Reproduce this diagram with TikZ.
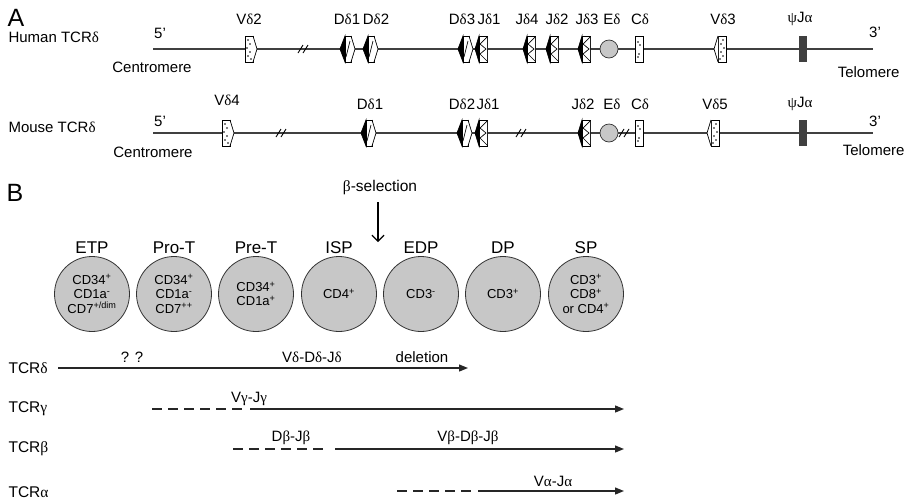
\documentclass[tikz,border=0pt]{standalone}
\usepackage{fontspec}
\setmainfont{Liberation Sans}
\newfontfamily\grk{Liberation Serif}
\usetikzlibrary{arrows, arrows.meta}
\newcommand{\gDl}{{\grk δ}}
\newcommand{\gGm}{{\grk γ}}
\newcommand{\gBt}{{\grk β}}
\newcommand{\gAl}{{\grk α}}
\newcommand{\gPs}{{\grk ψ}}
\newcommand{\fs}[1]{\fontsize{#1}{#1}\selectfont}
% gene segments, drawn at (x,y)
\newcommand{\vseg}[3][]{\begin{scope}[shift={(#2,#3)},#1]
	\draw[seg] (-4,-13) rectangle (4,13);
	\draw[seg] (4,-13) -- (8,0) -- (4,13);
	\foreach \p in {(-1,-9),(1,-5),(-2,-1),(1,3),(-1,7),(2,10)} \fill \p circle (0.8);
\end{scope}}
\newcommand{\dseg}[2]{\begin{scope}[shift={(#1,#2)}]
	\draw[seg,fill=black] (-3,-13) -- (-8,0) -- (-3,13) -- cycle;
	\draw[seg] (-3,-13) rectangle (3,13);
	\draw[seg] (3,-13) -- (7,0) -- (3,13);
	\draw[seg] (-2,8) -- (2,-8);
\end{scope}}
\newcommand{\jseg}[2]{\begin{scope}[shift={(#1,#2)}]
	\draw[seg,fill=black] (-4,-13) -- (-8,0) -- (-4,13) -- cycle;
	\draw[seg] (-4,-13) rectangle (4,13);
	\draw[seg] (4,-12) -- (-3,-5) -- (3,0) -- (-3,5) -- (4,12);
\end{scope}}
\newcommand{\cseg}[2]{\begin{scope}[shift={(#1,#2)}]
	\draw[seg] (-4,-13) rectangle (4,13);
	\foreach \p in {(-1,-7),(1,-4),(0,5),(-1,8)} \fill \p circle (0.8);
\end{scope}}
\newcommand{\pseg}[2]{\fill[black!75] (#1-4,#2-13) rectangle (#1+4,#2+13);}
\newcommand{\brk}[2]{\draw[line width=0.9pt] (#1-6,#2+4) -- (#1-1,#2-4) (#1-1,#2+4) -- (#1+4,#2-4);}

\begin{document}
\begin{tikzpicture}[x=1pt,y=-1pt,font=\fs{15},
	seg/.style={line width=0.7pt,fill=white},
	dna/.style={line width=1.2pt,draw=black!75},
	cell/.style={circle,draw=black!80,line width=0.8pt,fill=black!22,minimum size=75pt,inner sep=0pt,align=center,font=\fontsize{13}{14.5}\selectfont},
	stage/.style={font=\fs{17}},
	row/.style={line width=1.3pt,draw=black!85},
	part/.style={row,dash pattern=on 10pt off 6pt},
	>={Triangle[length=9pt,width=7pt]}]
	\useasboundingbox (0,0) rectangle (904,499);
	
	%% A
	\node (pA) at (16,18) {\fs{25}A};
	\node[anchor=west] (hum) at (5,37) {Human TCR\gDl};
	\node[anchor=west] (mou) at (5,127) {Mouse TCR\gDl};
	
	% human locus
	\coordinate (h5) at (153,49);
	\coordinate (h3) at (873,49);
	\draw[dna] (h5) -- (h3);
	\node (h5t) at (160,33) {5’};
	\node (h3t) at (875,32) {3’};
	\node (hcen) at (152,67) {Centromere};
	\node[anchor=east] (htel) at (903,72) {Telomere};
	\vseg{249}{49}
	\brk{304}{49}
	\dseg{348}{49}
	\dseg{371}{49}
	\dseg{466}{49}
	\jseg{483}{49}
	\jseg{531}{49}
	\jseg{554}{49}
	\jseg{586}{49}
	\node[circle,draw=black!80,fill=black!22,line width=0.7pt,minimum size=18pt,inner sep=0pt] (hE) at (609,49) {};
	\cseg{639}{49}
	\vseg[xscale=-1]{722}{49}
	\pseg{803}{49}
	\node (hV2) at (249,19) {V\gDl2};
	\node (hD1) at (347,19) {D\gDl1};
	\node (hD2) at (376,19) {D\gDl2};
	\node (hD3) at (462,19) {D\gDl3};
	\node (hJ1) at (489,19) {J\gDl1};
	\node (hJ4) at (527,19) {J\gDl4};
	\node (hJ2) at (557,19) {J\gDl2};
	\node (hJ3) at (587,19) {J\gDl3};
	\node (hEt) at (612,19) {E\gDl};
	\node (hC) at (640,19) {C\gDl};
	\node (hV3) at (723,19) {V\gDl3};
	\node (hP) at (800,19) {\gPs J\gAl};
	
	% mouse locus
	\coordinate (m5) at (153,133);
	\coordinate (m3) at (873,133);
	\draw[dna] (m5) -- (m3);
	\node (m5t) at (160,121) {5’};
	\node (m3t) at (875,121) {3’};
	\node (mcen) at (153,152) {Centromere};
	\node[anchor=east] (mtel) at (908,150) {Telomere};
	\vseg{226}{133}
	\brk{282}{133}
	\dseg{369}{133}
	\dseg{465}{133}
	\jseg{483}{133}
	\brk{522}{133}
	\jseg{586}{133}
	\node[circle,draw=black!80,fill=black!22,line width=0.7pt,minimum size=18pt,inner sep=0pt] (mE) at (609,133) {};
	\brk{625}{133}
	\cseg{639}{133}
	\vseg[xscale=-1]{715}{133}
	\pseg{803}{133}
	\node (mV4) at (227,100) {V\gDl4};
	\node (mD1) at (370,104) {D\gDl1};
	\node (mD2) at (462,104) {D\gDl2};
	\node (mJ1) at (488,104) {J\gDl1};
	\node (mJ2) at (583,104) {J\gDl2};
	\node (mEt) at (612,104) {E\gDl};
	\node (mC) at (640,104) {C\gDl};
	\node (mV5) at (715,104) {V\gDl5};
	\node (mP) at (800,104) {\gPs J\gAl};
	
	%% B
	\node (pB) at (15,193) {\fs{25}B};
	\node[font=\fs{15.5}] (bsel) at (380,188) {\gBt-selection};
	\coordinate (bsel2) at (378,242);
	\draw[line width=1.2pt,-{Straight Barb[length=6pt,width=12pt]}] (bsel) ++(-2,14) -- (bsel2);
	
	\node[cell] (etp) at (92,294) {CD34\textsuperscript{+}\\CD1a\textsuperscript{-}\\CD7\textsuperscript{+/dim}};
	\node[cell] (prot) at (174,294) {CD34\textsuperscript{+}\\CD1a\textsuperscript{-}\\CD7\textsuperscript{++}};
	\node[cell] (pret) at (256,294) {CD34\textsuperscript{+}\\CD1a\textsuperscript{+}};
	\node[cell] (isp) at (339,294) {CD4\textsuperscript{+}};
	\node[cell] (edp) at (421,294) {CD3\textsuperscript{-}};
	\node[cell] (dp) at (503,294) {CD3\textsuperscript{+}};
	\node[cell] (sp) at (586,294) {CD3\textsuperscript{+}\\CD8\textsuperscript{+}\\or CD4\textsuperscript{+}};
	\node[stage,above=-1pt] at (etp.north) {ETP};
	\node[stage,above=-1pt] at (prot.north) {Pro-T};
	\node[stage,above=-1pt] at (pret.north) {Pre-T};
	\node[stage,above=-1pt] at (isp.north) {ISP};
	\node[stage,above=-1pt] at (edp.north) {EDP};
	\node[stage,above=-1pt] at (dp.north) {DP};
	\node[stage,above=-1pt] at (sp.north) {SP};
	
	% rearrangements
	\node[anchor=west,font=\fs{15.5}] (rD) at (5,368) {TCR\gDl};
	\node[anchor=west,font=\fs{15.5}] (rG) at (5,409) {TCR\gGm};
	\node[anchor=west,font=\fs{15.5}] (rB) at (5,449) {TCR\gBt};
	\node[anchor=west,font=\fs{15.5}] (rA) at (5,492) {TCR\gAl};
	
	\coordinate (d1) at (58,368);  \coordinate (d2) at (468,368);
	\coordinate (g0) at (152,409); \coordinate (g1) at (243,409);
	\coordinate (g2) at (250,409); \coordinate (g3) at (624,409);
	\coordinate (b0) at (233,449); \coordinate (b1) at (325,449);
	\coordinate (b2) at (335,449); \coordinate (b3) at (624,449);
	\coordinate (a0) at (397,491); \coordinate (a1) at (472,491);
	\coordinate (a2) at (478,491); \coordinate (a3) at (624,491);
	\draw[row,->] (d1) -- (d2);
	\draw[part] (g0) -- (g1);
	\draw[row,->] (g2) -- (g3);
	\draw[part] (b0) -- (b1);
	\draw[row,->] (b2) -- (b3);
	\draw[part] (a0) -- (a1);
	\draw[row,->] (a2) -- (a3);
	
	\node (qq) at (132,357) {? ?};
	\node (vdj) at (312,357) {V\gDl-D\gDl-J\gDl};
	\node (del) at (422,357) {deletion};
	\node (vjg) at (249,399) {V\gGm-J\gGm};
	\node (djb) at (291,438) {D\gBt-J\gBt};
	\node (vdjb) at (468,438) {V\gBt-D\gBt-J\gBt};
	\node (vja) at (553,481) {V\gAl-J\gAl};
\end{tikzpicture}
\end{document}
